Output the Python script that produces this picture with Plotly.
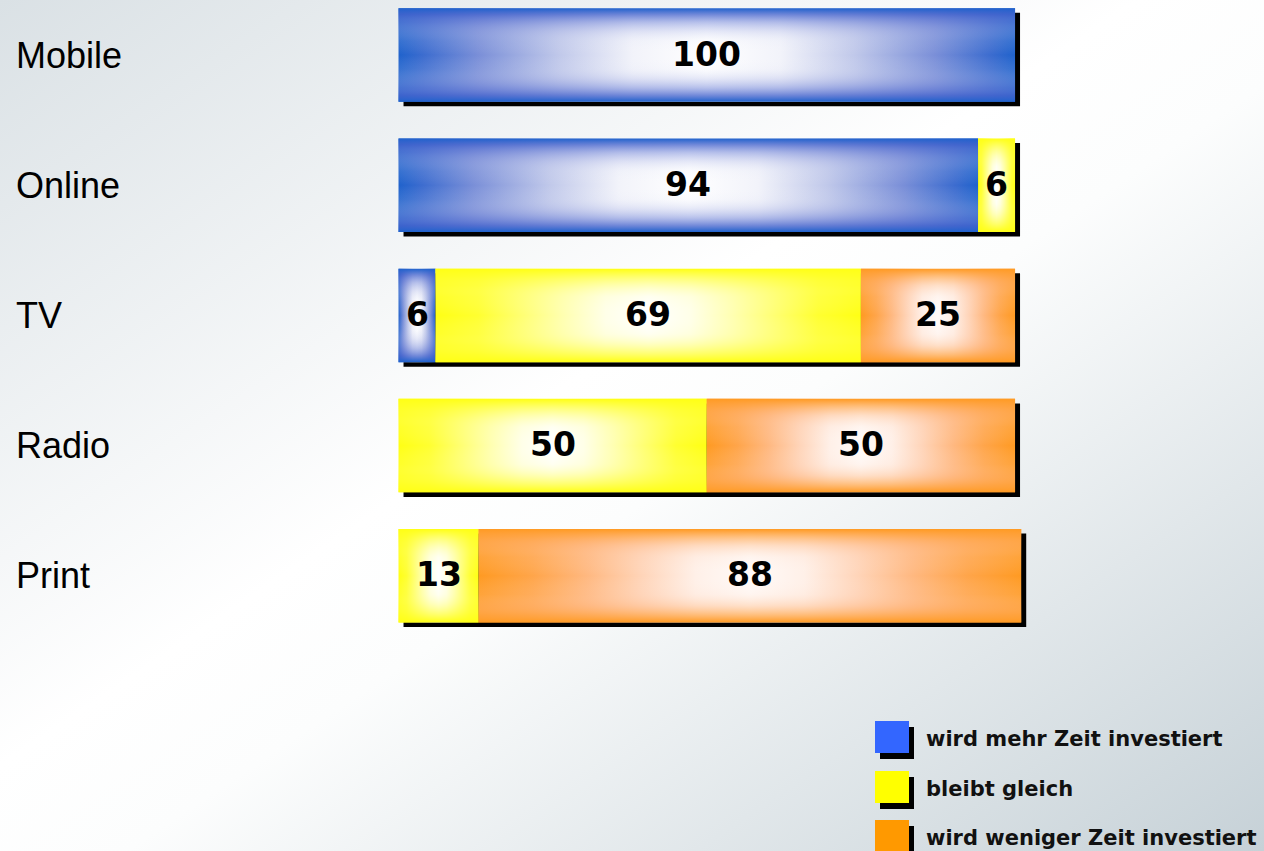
import base64
import plotly.graph_objects as go

# ---------------- data ----------------
categories = ["Mobile", "Online", "TV", "Radio", "Print"]
series_names = ["wird mehr Zeit investiert", "bleibt gleich", "wird weniger Zeit investiert"]
mehr = [100, 94, 6, 0, 0]
gleich = [0, 6, 69, 50, 13]
weniger = [0, 0, 25, 50, 88]
series_values = [mehr, gleich, weniger]

# ---------------- style ----------------
W, H = 1264, 851


def sym(stops):
    """mirror half-profile stops (0..0.5) to a full 0..1 colorscale"""
    out = list(stops)
    for p, c in reversed(stops[:-1]):
        out.append([1 - p, c])
    return out


h_grad = [
    sym([[0, "#1f62cc"], [0.04, "#3c6ccf"], [0.13, "#7a8fd8"], [0.26, "#c0c8ea"],
         [0.38, "#f2f3fa"], [0.5, "#ffffff"]]),
    sym([[0, "#ffff14"], [0.1, "#ffff30"], [0.2, "#ffff70"], [0.3, "#ffffb0"],
         [0.4, "#ffffe8"], [0.5, "#ffffff"]]),
    sym([[0, "#ff9a22"], [0.1, "#ffa54a"], [0.2, "#ffb880"], [0.3, "#ffd4b8"],
         [0.4, "#fff0e8"], [0.5, "#fffaf8"]]),
]
v_grad = [
    sym([[0, "rgba(31,98,204,1)"], [0.07, "rgba(70,100,205,0.75)"],
         [0.15, "rgba(110,130,215,0.5)"], [0.25, "rgba(170,180,230,0.3)"],
         [0.35, "rgba(220,225,245,0.12)"], [0.5, "rgba(255,255,255,0)"]]),
    sym([[0, "rgba(255,255,20,1)"], [0.08, "rgba(255,255,40,0.7)"],
         [0.18, "rgba(255,255,80,0.4)"], [0.3, "rgba(255,255,160,0.15)"],
         [0.5, "rgba(255,255,255,0)"]]),
    sym([[0, "rgba(255,154,34,1)"], [0.08, "rgba(255,165,70,0.7)"],
         [0.18, "rgba(255,185,130,0.4)"], [0.3, "rgba(255,215,190,0.15)"],
         [0.5, "rgba(255,255,255,0)"]]),
]
legend_colors = ["#3366ff", "#ffff00", "#ff9900"]
half_h = 0.359
shadow_dx, shadow_dy = 0.81, 0.035
x_range = [-64.64, 140.38]
y_range = [6.1137, -0.4224]

fig = go.Figure()

# shadows
for i, cat in enumerate(categories):
    total = sum(s[i] for s in series_values)
    x0, x1 = 0 + shadow_dx, total + shadow_dx
    y0, y1 = i - half_h + shadow_dy, i + half_h + shadow_dy
    fig.add_trace(go.Scatter(
        x=[x0, x1, x1, x0, x0], y=[y0, y0, y1, y1, y0],
        mode="lines", fill="toself", fillcolor="black",
        line=dict(width=0), hoverinfo="skip", showlegend=False))

annotations = []

# segments (horizontal gradient base + vertical gradient overlay)
for i, cat in enumerate(categories):
    base = 0
    for s, vals in enumerate(series_values):
        v = vals[i]
        if v <= 0:
            continue
        x0, x1 = base, base + v
        y0, y1 = i - half_h, i + half_h
        xs, ys = [x0, x1, x1, x0, x0], [y0, y0, y1, y1, y0]
        fig.add_trace(go.Scatter(
            x=xs, y=ys, mode="lines", fill="toself",
            fillgradient=dict(type="horizontal", colorscale=h_grad[s]),
            line=dict(width=0), name=series_names[s],
            hoverinfo="skip", showlegend=False))
        fig.add_trace(go.Scatter(
            x=xs, y=ys, mode="lines", fill="toself",
            fillgradient=dict(type="vertical", colorscale=v_grad[s]),
            line=dict(width=0), name=series_names[s],
            hoverinfo="skip", showlegend=False))
        annotations.append(dict(
            x=base + v / 2, y=i, xref="x", yref="y", text=str(v), showarrow=False,
            xanchor="center", yanchor="middle", yshift=1,
            font=dict(family="DejaVu Sans", size=33, color="black", weight="bold")))
        base += v

for i, cat in enumerate(categories):
    annotations.append(dict(
        x=14 / W, xref="paper", xanchor="left", y=i, yref="y", yanchor="middle",
        text=cat, showarrow=False,
        font=dict(family="Liberation Sans, Arial", size=36, color="black")))

# custom legend
shapes = []
leg_tops = [721, 771, 820]
for k, name in enumerate(series_names):
    t = leg_tops[k]
    shapes.append(dict(type="rect", xref="paper", yref="paper",
                       x0=880 / W, x1=914 / W, y0=1 - (t + 38) / H, y1=1 - (t + 6) / H,
                       fillcolor="black", line=dict(width=0), layer="above"))
    shapes.append(dict(type="rect", xref="paper", yref="paper",
                       x0=875 / W, x1=909 / W, y0=1 - (t + 32) / H, y1=1 - t / H,
                       fillcolor=legend_colors[k], line=dict(width=0), layer="above"))
    annotations.append(dict(
        x=924 / W, xref="paper", xanchor="left", y=1 - (t + 18) / H, yref="paper",
        yanchor="middle", text=name, showarrow=False,
        font=dict(family="DejaVu Sans", size=21, color="#111111", weight="bold")))

# background gradient image
svg = ('<svg xmlns="http://www.w3.org/2000/svg" width="1264" height="851" '
       'viewBox="0 0 1264 851" preserveAspectRatio="none">'
       '<defs><linearGradient id="g" x1="0" y1="0" x2="1" y2="1">'
       '<stop offset="0" stop-color="#dae1e5"/>'
       '<stop offset="0.45" stop-color="#ffffff"/>'
       '<stop offset="0.55" stop-color="#fcfdfd"/>'
       '<stop offset="1" stop-color="#c6d1d7"/>'
       '</linearGradient></defs>'
       '<rect width="1264" height="851" fill="url(#g)"/></svg>')
src = "data:image/svg+xml;base64," + base64.b64encode(svg.encode()).decode()

fig.update_layout(
    width=W, height=H, margin=dict(l=0, r=0, t=0, b=0),
    paper_bgcolor="white", plot_bgcolor="rgba(0,0,0,0)",
    xaxis=dict(range=x_range, visible=False, fixedrange=True),
    yaxis=dict(range=y_range, visible=False, fixedrange=True),
    showlegend=False,
    annotations=annotations, shapes=shapes,
    images=[dict(source=src, xref="paper", yref="paper", x=0, y=1,
                 sizex=1, sizey=1, sizing="stretch", layer="below",
                 xanchor="left", yanchor="top")],
)

fig.write_html("out.html", config={"displayModeBar": False},
               post_script="document.body.style.margin='0';")
